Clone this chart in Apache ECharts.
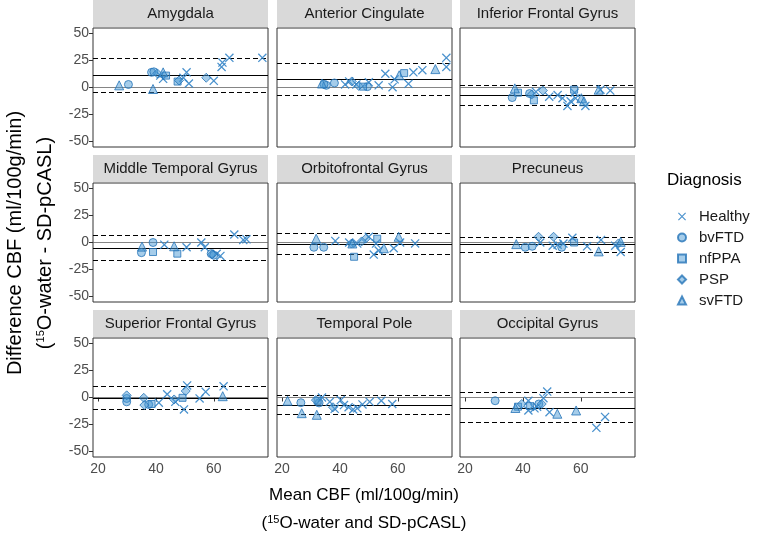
<!DOCTYPE html>
<html>
<head>
<meta charset="utf-8">
<script src="https://cdn.jsdelivr.net/npm/echarts@6/dist/echarts.min.js"></script>
<style>html,body{margin:0;padding:0;background:#fff}#c{width:761px;height:538px}</style>
</head>
<body>
<div id="c"></div>
<script>
// ---- data ----
const regions = ['Amygdala','Anterior Cingulate','Inferior Frontal Gyrus','Middle Temporal Gyrus','Orbitofrontal Gyrus','Precuneus','Superior Frontal Gyrus','Temporal Pole','Occipital Gyrus'];
const groups = ['Healthy','bvFTD','nfPPA','PSP','svFTD'];
const xTicks = [20, 40, 60];
const yTicks = [-50, -25, 0, 25, 50];
// [mean CBF, difference CBF, group index]
const amygdala = [[27.3,2,4],[30.5,2.8,1],[38.5,14,1],[39.3,14.5,1],[39,-1.4,4],[40.5,13,3],[42.5,14,4],[42.5,8,0],[41.5,11,0],[47.5,5.5,2],[48,6.5,3],[50.6,14,0],[51.4,3.7,0],[49.5,9,0],[57.4,9,3],[60,6.2,0],[62.7,19,0],[63,23,0],[65.4,27.4,0],[76.8,27.4,0],[43.5,11,2]];
const anteriorCingulate = [[33.8,3.7,4],[35.3,2,1],[38.1,4.2,1],[41.8,2.8,0],[43.2,5.6,0],[44.1,5.6,3],[45.7,2.8,0],[48,0.8,2],[49.5,0.8,1],[50,4.8,0],[53.4,2,0],[55.7,12.7,0],[58.2,0.3,0],[58.9,7.6,0],[60.5,11.3,4],[62.2,13.3,2],[63.7,3.4,0],[65.4,14,0],[68.5,16,0],[73,17,4],[76.8,27.4,0],[76.8,19,0],[46.5,1.5,3],[34.5,3,1]];
const inferiorFrontal = [[37.2,-0.8,4],[36.3,-9.3,1],[38.3,-4.8,2],[42.3,-5.6,1],[43,-6.5,3],[43.8,-11.9,2],[46.9,-2.8,3],[44.5,-4,0],[49.1,-8.5,0],[52,-7,0],[53.7,-9.9,0],[55.4,-17,0],[56.5,-12.7,0],[57.7,-2,2],[57.9,-4.8,0],[58.2,-9.9,0],[60.2,-9.9,4],[61.1,-12.7,4],[61.6,-17,0],[66.2,-2,4],[66.8,-2,0],[70.2,-2.8,0]];
const middleTemporal = [[35.2,-3.8,4],[35,-9.4,1],[39,0,1],[39,-8.8,2],[42.9,-2,0],[46.3,-3.5,4],[47.4,-10.3,2],[50.6,-4.4,0],[55.7,0,0],[56.9,-4.4,0],[59.1,-10.3,1],[60,-11.8,1],[59.5,-11,3],[61,-10.5,0],[62.3,-12.4,0],[67.1,7.4,0],[70.2,2.4,0],[71.3,2.9,0]];
const orbitofrontal = [[31.8,3.5,4],[31,-4.4,1],[34.4,-4.4,1],[38.4,1.5,0],[43.2,0,0],[44.3,-0.9,4],[44,-1,3],[44.9,-13.2,2],[48.9,3.5,3],[47.5,1,3],[50,5.3,0],[52.9,3.5,2],[51.7,-11.2,0],[53.4,-7.4,0],[55.2,-5.3,4],[60.3,5.3,4],[58.6,-5.3,0],[60.8,0,0],[66,-0.9,0],[46,-1,0],[52.5,-1,0]];
const precuneus = [[37.7,-1.5,4],[40.8,-4.4,1],[43.2,-3.5,1],[45.4,5.3,3],[46,0,0],[50.6,5.3,3],[50.3,-3,0],[53.4,-4.4,1],[54,-1,0],[57.7,0,2],[57.1,4.4,0],[62.2,-3.5,0],[67,2.4,0],[66.2,-8.2,4],[71.9,-2.9,0],[73,-0.9,3],[73.8,0.6,4],[73.8,-8.8,0],[52,-2,0]];
const superiorFrontal = [[29.9,-0.9,1],[29.9,2,3],[29.9,-4,1],[35.8,-0.3,3],[36,-7,3],[38.5,-6,2],[37.5,-6.5,1],[41,-4.8,0],[43.9,3,0],[46.3,-1.8,3],[46.7,-4,0],[49.2,-0.3,2],[49.7,-11,0],[50.3,6,3],[50.8,11.2,0],[55.1,-0.9,0],[57.2,5.2,0],[63.1,1.2,4],[63.4,10.3,0]];
const temporalPole = [[21.9,-3,4],[26.5,-4.8,1],[26.8,-14.5,4],[32,-16,4],[31.7,-2.4,3],[32.3,-3,2],[33.8,0,0],[32.8,-5,1],[36.5,-4,0],[37.6,-9,3],[38.2,-10.5,0],[40.3,-2.4,0],[41.4,-7,0],[43,-9,0],[44.6,-11,0],[46,-10,0],[47.8,-6.4,0],[50.3,-4,0],[54.3,-3,0],[58.1,-6,0]];
const occipital = [[30.4,-3,1],[37.4,-9.7,4],[38.3,-8.5,2],[39.6,-6,3],[41.9,-3,0],[41.9,-12,0],[42.5,-8,2],[44.9,-8.5,0],[45.5,-6,1],[46.5,-6,3],[47.1,-0.6,0],[48.4,5.5,0],[49.2,-13.6,0],[51.9,-15,4],[58.4,-12,4],[65.4,-28,0],[68.4,-18,0],[44,-10,0]];
const meanDiff = [11, 7.6, -7, -5.3, -2, -2, -0.5, -7, -9.7];
const upperLoA = [27.5, 22.5, 2, 6.5, 8.2, 5.3, 10.3, 2, 4.5];
const lowerLoA = [-4.5, -7, -16.5, -16.8, -11.2, -9.4, -11, -15.5, -23];

const panelData = [amygdala, anteriorCingulate, inferiorFrontal, middleTemporal, orbitofrontal, precuneus, superiorFrontal, temporalPole, occipital];

// ---- layout / style ----
const FONT = 'Liberation Sans, Arial, sans-serif';
const colsL = [93, 277, 460];
const rowsT = [28, 183, 338];
const PW = 175, PH = 119, SH = 27;
const symbols = [
  'path://M0,1L1,0L10,9L9,10Z M9,0L10,1L1,10L0,9Z',
  'circle',
  'rect',
  'diamond',
  'triangle'
];
const symSize = [9, 8, 7, 9, 9];
const ptStyle = (g) => g === 0
  ? {color: '#3585c8', borderWidth: 0, opacity: 0.9}
  : {color: 'rgba(70,150,212,0.6)', borderColor: '#2574b8', borderWidth: 1};

const grids = [], xAxes = [], yAxes = [], series = [], graphics = [];
regions.forEach((name, i) => {
  const r = Math.floor(i / 3), c = i % 3;
  grids.push({left: colsL[c], top: rowsT[r], width: PW, height: PH, show: true, borderColor: '#333', borderWidth: 1, backgroundColor: '#fff'});
  xAxes.push({
    type: 'value', gridIndex: i, min: 18.25, max: 78.75,
    axisLine: {show: false}, splitLine: {show: false},
    axisTick: {show: r === 2, length: 4, lineStyle: {color: '#333'}, customValues: xTicks},
    axisLabel: {show: r === 2, customValues: xTicks, color: '#4d4d4d', fontSize: 14, fontFamily: FONT, margin: 5}
  });
  yAxes.push({
    type: 'value', gridIndex: i, min: -55, max: 55,
    axisLine: {show: false}, splitLine: {show: false},
    axisTick: {show: c === 0, length: 4, lineStyle: {color: '#333'}, customValues: yTicks},
    axisLabel: {show: c === 0, customValues: yTicks, color: '#4d4d4d', fontSize: 14, fontFamily: FONT, margin: 4}
  });
  groups.forEach((g, gi) => {
    const s = {
      type: 'scatter', name: g, xAxisIndex: i, yAxisIndex: i,
      symbol: symbols[gi], symbolSize: symSize[gi],
      itemStyle: ptStyle(gi),
      data: panelData[i].filter(d => d[2] === gi).map(d => [d[0], d[1]]),
      z: 5
    };
    if (gi === 0) {
      s.markLine = {
        silent: true, symbol: 'none', animation: false, label: {show: false},
        data: [
          {yAxis: 0, lineStyle: {color: '#666', width: 0.8, type: 'solid'}},
          {yAxis: meanDiff[i], lineStyle: {color: '#000', width: 1.2, type: 'solid'}},
          {yAxis: upperLoA[i], lineStyle: {color: '#000', width: 1.2, type: [5, 3]}},
          {yAxis: lowerLoA[i], lineStyle: {color: '#000', width: 1.2, type: [5, 3]}}
        ]
      };
    }
    series.push(s);
  });
  graphics.push({type: 'rect', shape: {x: colsL[c], y: rowsT[r] - SH - 1, width: PW, height: SH}, style: {fill: '#d9d9d9'}, silent: true});
  graphics.push({type: 'text', x: colsL[c] + PW / 2, y: rowsT[r] - SH / 2 - 1, style: {text: name, fill: '#1a1a1a', font: '15px ' + FONT, textAlign: 'center', textVerticalAlign: 'middle'}, silent: true});
});

// axis titles
const supRich = {s: {fontSize: 11, verticalAlign: 'top', lineHeight: 12, fontFamily: FONT, padding: [0,0,8,0]}};
graphics.push({type: 'text', x: 364, y: 495, style: {text: 'Mean CBF (ml/100g/min)', fill: '#000', font: '17px ' + FONT, textAlign: 'center', textVerticalAlign: 'middle'}});
graphics.push({type: 'text', x: 364, y: 523, style: {text: '({s|15}O-water and SD-pCASL)', fill: '#000', font: '17px ' + FONT, textAlign: 'center', textVerticalAlign: 'middle', rich: supRich}});
graphics.push({type: 'text', x: 15, y: 243, rotation: Math.PI / 2, style: {text: 'Difference CBF (ml/100g/min)', fill: '#000', font: '20px ' + FONT, textAlign: 'center', textVerticalAlign: 'middle'}});
graphics.push({type: 'text', x: 45, y: 243, rotation: Math.PI / 2, style: {text: '({s|15}O-water - SD-pCASL)', fill: '#000', font: '20px ' + FONT, textAlign: 'center', textVerticalAlign: 'middle', rich: supRich}});
graphics.push({type: 'text', x: 667, y: 180, style: {text: 'Diagnosis', fill: '#000', font: '17px ' + FONT, textAlign: 'left', textVerticalAlign: 'middle'}});

const chart = echarts.init(document.getElementById('c'), null, {renderer: 'canvas'});
chart.setOption({
  animation: false,
  backgroundColor: '#fff',
  grid: grids, xAxis: xAxes, yAxis: yAxes, series: series,
  legend: {
    data: groups, orient: 'vertical', left: 672, top: 204, itemGap: 6,
    itemWidth: 8, itemHeight: 8,
    textStyle: {fontSize: 15, color: '#1a1a1a', fontFamily: FONT, padding: [0, 0, 0, 8]},
    selectedMode: false
  },
  graphic: graphics
});
</script>
</body>
</html>
